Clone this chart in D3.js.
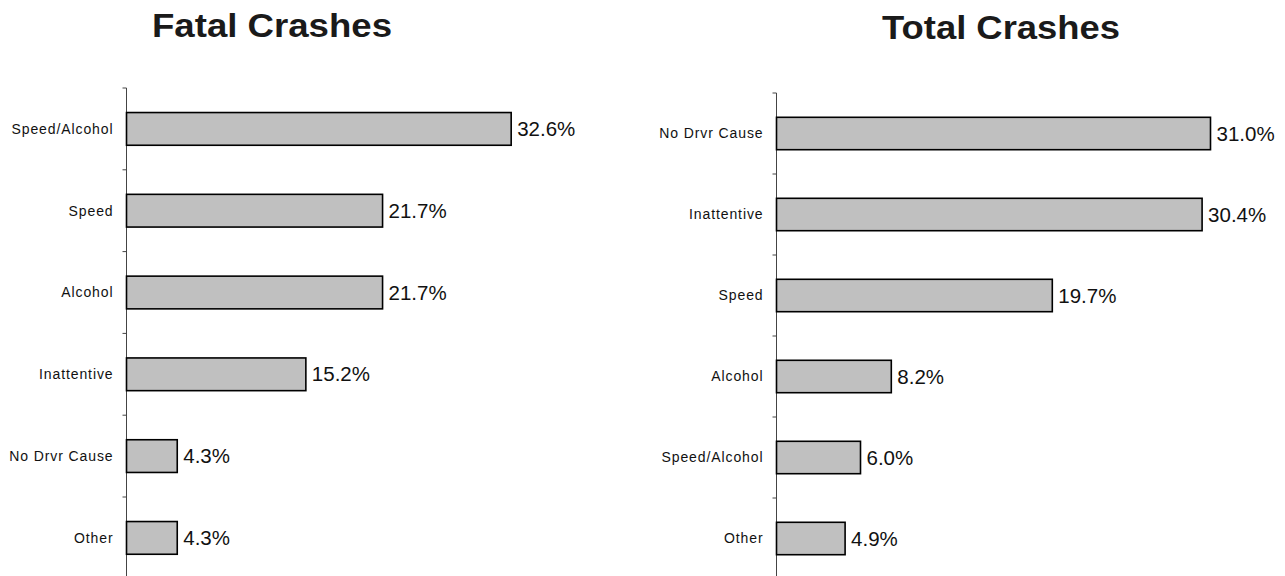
<!DOCTYPE html>
<html>
<head>
<meta charset="utf-8">
<script src="https://cdn.jsdelivr.net/npm/d3@7"></script>
<style>
  html, body { margin: 0; padding: 0; background: #fff; }
  svg { display: block; font-family: "Liberation Sans", Arial, sans-serif; }
</style>
</head>
<body>
<svg id="chart" width="1285" height="576"></svg>
<script>
// Share of crashes by primary cause
const fatalCauses  = ["Speed/Alcohol", "Speed", "Alcohol", "Inattentive", "No Drvr Cause", "Other"];
const fatalShares  = [32.6, 21.7, 21.7, 15.2, 4.3, 4.3];
const totalCauses  = ["No Drvr Cause", "Inattentive", "Speed", "Alcohol", "Speed/Alcohol", "Other"];
const totalShares  = [31.0, 30.4, 19.7, 8.2, 6.0, 4.9];
const panelTitles  = ["Fatal Crashes", "Total Crashes"];

const svg = d3.select("#chart");

function drawPanel(opts) {
  const { title, causes, shares, axisX, top, step, pxPerPct, titleX, titleY, titleWidth } = opts;
  const data = causes.map((c, i) => ({ cause: c, value: shares[i] }));

  const y = d3.scaleBand()
    .domain(causes)
    .range([top, top + step * causes.length])
    .paddingInner(0.6)
    .paddingOuter(0.3);

  const x = d3.scaleLinear()
    .domain([0, 35])
    .range([axisX, axisX + 35 * pxPerPct]);

  const g = svg.append("g");

  // bold heading
  g.append("text")
    .attr("x", titleX)
    .attr("y", titleY)
    .attr("text-anchor", "middle")
    .attr("font-size", 34)
    .attr("font-weight", "bold")
    .attr("fill", "#1a1a1a")
    .attr("textLength", titleWidth)
    .attr("lengthAdjust", "spacingAndGlyphs")
    .text(title);

  // category axis: ticks sit at band boundaries
  const boundaries = d3.range(causes.length).map(i => top + i * step);
  g.append("line")
    .attr("x1", axisX).attr("x2", axisX)
    .attr("y1", top).attr("y2", top + step * causes.length)
    .attr("stroke", "#444").attr("stroke-width", 1);
  g.selectAll(".tick")
    .data(boundaries)
    .join("line")
    .attr("x1", axisX - 4).attr("x2", axisX)
    .attr("y1", d => d).attr("y2", d => d)
    .attr("stroke", "#444").attr("stroke-width", 1);

  g.selectAll(".cat")
    .data(data)
    .join("text")
    .attr("x", axisX - 13)
    .attr("y", d => y(d.cause) + y.bandwidth() / 2)
    .attr("dy", "0.35em")
    .attr("text-anchor", "end")
    .attr("font-size", 14)
    .attr("letter-spacing", 0.9)
    .attr("fill", "#111")
    .text(d => d.cause);

  g.selectAll(".bar")
    .data(data)
    .join("rect")
    .attr("x", x(0))
    .attr("y", d => y(d.cause))
    .attr("width", d => x(d.value) - x(0))
    .attr("height", y.bandwidth())
    .attr("fill", "#c0c0c0")
    .attr("stroke", "#000")
    .attr("stroke-width", 1.6);

  g.selectAll(".val")
    .data(data)
    .join("text")
    .attr("x", d => x(d.value) + 6)
    .attr("y", d => y(d.cause) + y.bandwidth() / 2)
    .attr("dy", "0.35em")
    .attr("font-size", 20.5)
    .attr("fill", "#111")
    .text(d => d.value.toFixed(1) + "%");
}

drawPanel({
  title: panelTitles[0], causes: fatalCauses, shares: fatalShares,
  axisX: 126.5, top: 88, step: 81.8, pxPerPct: 11.8,
  titleX: 272, titleY: 37, titleWidth: 240
});
drawPanel({
  title: panelTitles[1], causes: totalCauses, shares: totalShares,
  axisX: 776.5, top: 93, step: 81, pxPerPct: 14.0,
  titleX: 1001, titleY: 39, titleWidth: 238
});
</script>
</body>
</html>
